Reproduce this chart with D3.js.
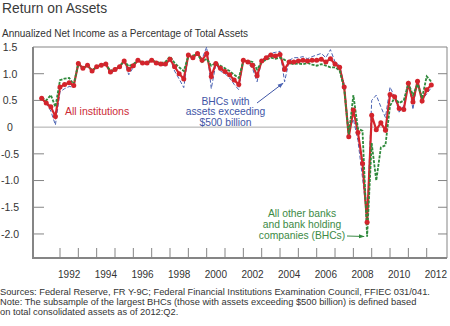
<!DOCTYPE html>
<html><head><meta charset="utf-8">
<script src="https://cdn.jsdelivr.net/npm/d3@7/dist/d3.min.js"></script>
<style>body{margin:0;background:#fff}svg{display:block}</style>
</head><body><svg id="c" width="450" height="326"></svg>
<script>
// ---- data (quarterly, 1991:Q1 - 2012:Q2) ----
const startYear = 1991;
const allInstitutions = [
  0.54, 0.45, 0.38, 0.20,
  0.75, 0.80, 0.83, 0.78,
  1.19, 1.10, 1.16, 1.05,
  1.13, 1.16, 1.18, 1.03,
  1.08, 1.13, 1.24, 1.08,
  1.15, 1.25, 1.20, 1.20,
  1.25, 1.20, 1.18, 1.18,
  1.27, 1.13, 1.00, 0.90,
  1.35, 1.30, 1.38, 1.25,
  1.38, 0.95, 1.19, 1.10,
  1.04, 0.98, 0.88, 0.80,
  1.25, 1.22, 1.16, 0.96,
  1.24, 1.30, 1.35, 1.33,
  1.36, 1.08, 1.22, 1.22,
  1.24, 1.25, 1.24, 1.25,
  1.25, 1.27, 1.22, 1.28,
  1.18, 1.12, 0.75, -0.18,
  0.32, -0.10, -0.68, -1.78,
  0.22, -0.05, 0.08, -0.06,
  0.61, 0.57, 0.35, 0.33,
  0.82, 0.47, 0.86, 0.49,
  0.70, 0.79
];
const largeBHCs = [
  0.52, 0.45, 0.30, 0.04,
  0.66, 0.72, 0.76, 0.75,
  1.19, 1.10, 1.16, 1.05,
  1.13, 1.14, 1.18, 1.00,
  1.06, 1.12, 1.24, 0.98,
  1.12, 1.25, 1.18, 1.22,
  1.27, 1.18, 1.16, 1.15,
  1.28, 1.05, 0.90, 0.74,
  1.36, 1.26, 1.38, 1.28,
  1.50, 0.72, 1.18, 1.05,
  1.00, 0.92, 0.80, 0.70,
  1.26, 1.20, 1.10, 0.85,
  1.25, 1.32, 1.38, 1.40,
  1.42, 0.85, 1.25, 1.30,
  1.30, 1.32, 1.28, 1.32,
  1.35, 1.38, 1.30, 1.45,
  1.22, 1.15, 0.80, -0.08,
  0.15, -0.25, -0.95, -1.72,
  0.50, 0.60, 0.38, 0.18,
  0.75, 0.57, 0.28, 0.40,
  0.88, 0.33, 0.90, 0.52,
  0.62, 0.74
];
const otherBanks = [
  0.55, 0.50, 0.60, 0.38,
  0.88, 0.91, 0.92, 0.80,
  1.19, 1.10, 1.16, 1.06,
  1.13, 1.17, 1.18, 1.05,
  1.10, 1.14, 1.24, 1.14,
  1.18, 1.25, 1.22, 1.20,
  1.25, 1.22, 1.20, 1.22,
  1.32, 1.20, 1.12, 1.05,
  1.33, 1.34, 1.37, 1.22,
  1.28, 1.15, 1.20, 1.15,
  1.10, 1.05, 0.98, 0.92,
  1.24, 1.24, 1.22, 1.08,
  1.22, 1.26, 1.30, 1.28,
  1.30, 1.26, 1.20, 1.18,
  1.19, 1.18, 1.20, 1.17,
  1.15, 1.18, 1.15, 1.12,
  1.12, 1.06, 0.72, -0.15,
  0.60, -0.03, -0.07, -2.05,
  -0.30, -1.00, -0.38, -0.34,
  0.40, 0.55, 0.45, 0.50,
  0.82, 0.60, 0.80, 0.55,
  0.95, 0.85
];
const yTickValues = [1.5, 1.0, 0.5, 0, -0.5, -1.0, -1.5, -2.0];
const yTickLabels = ["1.5", "1.0", "0.5", "0", "-0.5", "-1.0", "-1.5", "-2.0"];
const xTickYears = [1992,1993,1994,1995,1996,1997,1998,1999,2000,2001,2002,2003,2004,2005,2006,2007,2008,2009,2010,2011,2012];
const xLabelYears = [1992,1994,1996,1998,2000,2002,2004,2006,2008,2010,2012];

// ---- layout ----
const FONT = "'Liberation Sans', Arial, sans-serif";
const plot = {left: 33, right: 447, top: 47, bottom: 258};
const svg = d3.select("#c").style("font-family", FONT);

const x = d3.scaleLinear().domain([1992, 2012]).range([60, 426.7]);
const y = d3.scaleLinear().domain([-2.45, 1.5]).range([plot.bottom, plot.top]);
const tOf = i => startYear + Math.floor(i / 4) + (i % 4) / 4;

const RED = "#d3242c", BLUE = "#4b63b3", GREEN = "#2f8a3c", AXIS = "#858585";

// titles
svg.append("text").attr("x", 2).attr("y", 13).attr("font-size", 13.8).attr("fill", "#3a3a3a").text("Return on Assets");
svg.append("text").attr("x", 2).attr("y", 36.5).attr("font-size", 10).attr("fill", "#333").text("Annualized Net Income as a Percentage of Total Assets");

// frame
svg.append("line").attr("x1", plot.left).attr("x2", plot.right).attr("y1", plot.top).attr("y2", plot.top).attr("stroke", AXIS).attr("stroke-width", 1);
svg.append("line").attr("x1", plot.right).attr("x2", plot.right).attr("y1", plot.top).attr("y2", plot.bottom).attr("stroke", AXIS).attr("stroke-width", 1);

// zero line
svg.append("line").attr("x1", plot.left).attr("x2", plot.right).attr("y1", y(0)).attr("y2", y(0)).attr("stroke", "#aaaaaa").attr("stroke-width", 1);

// y ticks (inward both sides) and labels
const yt = svg.append("g");
yTickValues.forEach((v, i) => {
  if (v !== 0 && v !== 1.5) {
    yt.append("line").attr("x1", plot.left).attr("x2", plot.left + 11).attr("y1", y(v)).attr("y2", y(v)).attr("stroke", AXIS);
    yt.append("line").attr("x1", plot.right - 9).attr("x2", plot.right).attr("y1", y(v)).attr("y2", y(v)).attr("stroke", AXIS);
  }
  yt.append("text").attr("x", 10).attr("y", y(v) + 3.8).attr("text-anchor", "middle")
    .attr("font-size", 10.5).attr("fill", "#333").text(yTickLabels[i]);
});

// x ticks and labels
const xt = svg.append("g");
xTickYears.forEach(yr => {
  xt.append("line").attr("x1", x(yr)).attr("x2", x(yr)).attr("y1", plot.bottom).attr("y2", plot.bottom - 10).attr("stroke", AXIS);
});
xLabelYears.forEach(yr => {
  xt.append("text").attr("x", x(yr + 0.5)).attr("y", 277.5).attr("text-anchor", "middle")
    .attr("font-size", 10).attr("fill", "#333").text(yr);
});

// left and bottom axis lines
svg.append("line").attr("x1", plot.left).attr("x2", plot.left).attr("y1", plot.top).attr("y2", plot.bottom + 1).attr("stroke", AXIS).attr("stroke-width", 2);
svg.append("line").attr("x1", plot.left).attr("x2", plot.right).attr("y1", plot.bottom).attr("y2", plot.bottom).attr("stroke", AXIS).attr("stroke-width", 2);

// series
const line = d3.line().x((d, i) => x(tOf(i))).y(d => y(d));
svg.append("path").datum(largeBHCs).attr("d", line).attr("fill", "none")
  .attr("stroke", BLUE).attr("stroke-width", 1).attr("stroke-dasharray", "4,2");
svg.append("path").datum(allInstitutions).attr("d", line).attr("fill", "none")
  .attr("stroke", RED).attr("stroke-width", 2.2);
svg.append("path").datum(otherBanks).attr("d", line).attr("fill", "none")
  .attr("stroke", GREEN).attr("stroke-width", 1.8).attr("stroke-dasharray", "3,1.3");
svg.append("g").selectAll("circle").data(allInstitutions).join("circle")
  .attr("cx", (d, i) => x(tOf(i))).attr("cy", d => y(d)).attr("r", 2.5).attr("fill", RED);

// annotations
const defs = svg.append("defs");
[["ab", BLUE], ["ag", GREEN]].forEach(([id, col]) => {
  defs.append("marker").attr("id", id).attr("viewBox", "0 0 10 10").attr("refX", 9).attr("refY", 5)
    .attr("markerWidth", 6).attr("markerHeight", 6).attr("orient", "auto")
    .append("path").attr("d", "M0,1.5 L10,5 L0,8.5 Z").attr("fill", col);
});

svg.append("text").attr("x", 65).attr("y", 114.5).attr("font-size", 10.5).attr("fill", "#cc2a36").text("All institutions");

const bt = svg.append("text").attr("font-size", 10.3).attr("fill", "#3f56a6").attr("text-anchor", "middle");
["BHCs with", "assets exceeding", "$500 billion"].forEach((s, i) =>
  bt.append("tspan").attr("x", 225.5).attr("y", 104.5 + i * 10.5).text(s));
svg.append("line").attr("x1", 257).attr("y1", 103).attr("x2", x(2004.25) - 1.5).attr("y2", y(largeBHCs[53]) + 1.5)
  .attr("stroke", "#3f56a6").attr("stroke-width", 1).attr("marker-end", "url(#ab)");

const gt = svg.append("text").attr("font-size", 10.3).attr("fill", "#3c8a46").attr("text-anchor", "middle");
["All other banks", "and bank holding", "companies (BHCs)"].forEach((s, i) =>
  gt.append("tspan").attr("x", 302).attr("y", 216.5 + i * 11.3).text(s));
svg.append("line").attr("x1", 347).attr("y1", 236).attr("x2", x(2008.75) - 3).attr("y2", 236.5)
  .attr("stroke", "#3c8a46").attr("stroke-width", 1).attr("marker-end", "url(#ag)");

// notes
const notes = [
  "Sources: Federal Reserve, FR Y-9C; Federal Financial Institutions Examination Council, FFIEC 031/041.",
  "Note: The subsample of the largest BHCs (those with assets exceeding $500 billion) is defined based",
  "on total consolidated assets as of 2012:Q2."
];
notes.forEach((s, i) => svg.append("text").attr("x", 0).attr("y", 294.5 + i * 10.2).attr("font-size", 9.3).attr("fill", "#333").text(s));
</script>
</body></html>
